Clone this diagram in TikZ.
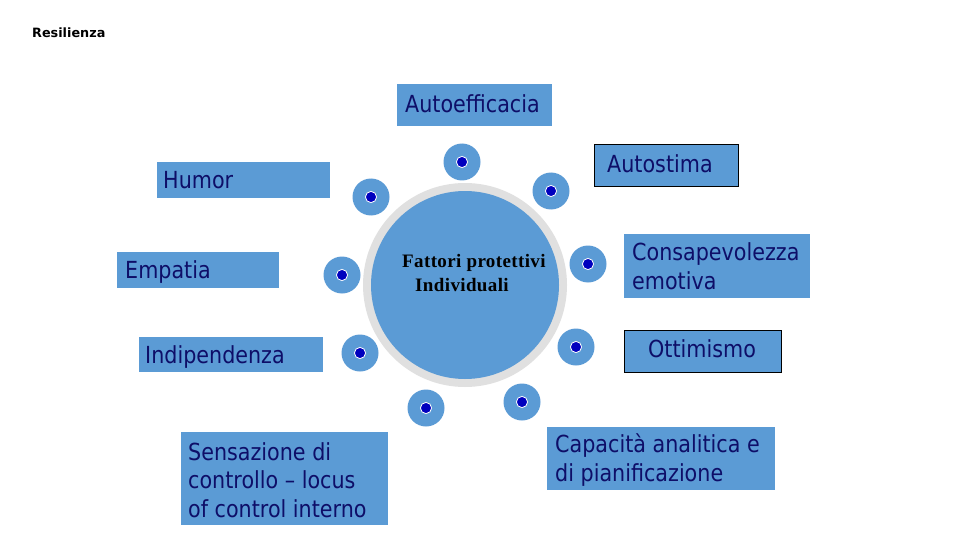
\documentclass[tikz,border=0pt]{standalone}
\usepackage{fontspec}
\setmainfont{DejaVu Sans}[FakeStretch=0.88]
\newfontfamily\titlefont{DejaVu Sans}
\newfontfamily\serifbold{Liberation Serif}[LetterSpace=2]
\definecolor{boxblue}{RGB}{91,155,213}
\definecolor{navytext}{RGB}{14,14,104}
\definecolor{ringgrey}{RGB}{224,224,224}
\definecolor{dotblue}{RGB}{0,0,190}
\tikzset{
  fbox/.style={fill=boxblue, draw=none, inner sep=0pt, anchor=north west},
  fboxline/.style={fbox, draw=black, line width=1.2pt},
  lbl/.style={text=navytext, inner sep=0pt, anchor=base west, align=left,
    font=\fontsize{23.5}{28.5}\selectfont},
  satellite/.style={circle, fill=boxblue, minimum size=37pt, inner sep=0pt,
    path picture={\fill[dotblue, draw=white, line width=0.8pt]
      (path picture bounding box.center) circle (5.6pt);}},
}
\begin{document}
\begin{tikzpicture}[x=1pt,y=-1pt]
\useasboundingbox (0,0) rectangle (960,540);
\fill[white] (0,0) rectangle (960,540);

\node[inner sep=0pt, anchor=base west, font=\titlefont\bfseries\fontsize{12.8}{15}\selectfont] (title) at (32,38) {Resilienza};

% central circle
\node[circle, fill=ringgrey, minimum size=204pt, inner sep=0pt] (ring) at (465,285) {};
\node[circle, fill=boxblue, minimum size=188pt, inner sep=0pt] (core) at (ring.center) {};
\node[inner sep=0pt, anchor=base west, font=\serifbold\bfseries\fontsize{19}{23}\selectfont] (f1) at (402,267) {Fattori protettivi};
\node[inner sep=0pt, anchor=base west, font=\serifbold\bfseries\fontsize{19}{23}\selectfont] (f2) at (415,291) {Individuali};

% satellites
\node[satellite] (s1) at (462,162) {};
\node[satellite] (s2) at (371,197) {};
\node[satellite] (s3) at (551,191) {};
\node[satellite] (s4) at (342,275) {};
\node[satellite] (s5) at (588,264) {};
\node[satellite] (s6) at (360,353) {};
\node[satellite] (s7) at (576,347) {};
\node[satellite] (s8) at (426,408) {};
\node[satellite] (s9) at (522,402) {};

% boxes
\node[fbox, minimum width=155pt, minimum height=42pt] (bAuto) at (397,84) {};
\node[lbl] (tAuto) at (405,113) {Autoefficacia};

\node[fboxline, minimum width=144pt, minimum height=42pt] (bStima) at (594,144) {};
\node[lbl] (tStima) at (607,173) {Autostima};

\node[fbox, minimum width=173pt, minimum height=36pt] (bHumor) at (157,162) {};
\node[lbl] (tHumor) at (163,188) {Humor};

\node[fbox, minimum width=162pt, minimum height=36pt] (bEmp) at (117,252) {};
\node[lbl] (tEmp) at (125,278) {Empatia};

\node[fbox, minimum width=184pt, minimum height=35pt] (bInd) at (139,337) {};
\node[lbl] (tInd) at (145,363) {Indipendenza};

\node[fbox, minimum width=207pt, minimum height=93pt] (bSens) at (181,432) {};
\node[lbl] (tSens) at (188,517) {Sensazione di\\controllo -- locus\\of control interno};

\node[fbox, minimum width=186pt, minimum height=64pt] (bCons) at (624,234) {};
\node[lbl] (tCons) at (632,289) {Consapevolezza\\emotiva};

\node[fboxline, minimum width=157pt, minimum height=42pt] (bOtt) at (624,330) {};
\node[lbl] (tOtt) at (648,357) {Ottimismo};

\node[fbox, minimum width=228pt, minimum height=63pt] (bCap) at (547,427) {};
\node[lbl] (tCap) at (555,481) {Capacità analitica e\\di pianificazione};
\end{tikzpicture}
\end{document}
